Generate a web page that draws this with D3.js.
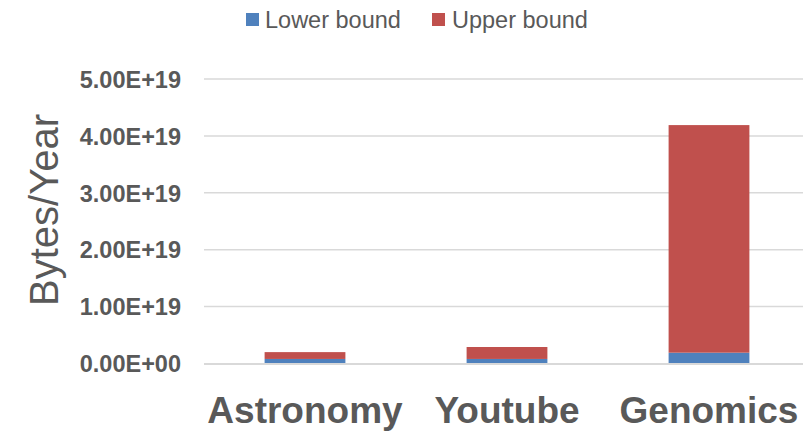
<!DOCTYPE html>
<html><head><meta charset="utf-8">
<script src="https://cdn.jsdelivr.net/npm/d3@7"></script>
<style>html,body{margin:0;padding:0;background:#fff;}svg{display:block;}</style>
</head><body>
<script>
const categories = ["Astronomy", "Youtube", "Genomics"];
const seriesNames = ["Lower bound", "Upper bound"];
const lowerBound = [8e17, 8e17, 1.9e18];
const upperBound = [1.2e18, 2.1e18, 4.0e19];
const yTicks = [0, 1e19, 2e19, 3e19, 4e19, 5e19];
const yTickLabels = ["0.00E+00", "1.00E+19", "2.00E+19", "3.00E+19", "4.00E+19", "5.00E+19"];
const colors = ["#4f81bd", "#c0504d"];

const W = 803, H = 433;
const font = "'Liberation Sans', Arial, Helvetica, sans-serif";
const textColor = "#595959";
const svg = d3.select("body").append("svg").attr("width", W).attr("height", H);

const x = d3.scaleBand().domain(categories).range([204, 810]).paddingInner(0.6).paddingOuter(0.3);
const y = d3.scaleLinear().domain([0, 5e19]).range([363.5, 79]);

// gridlines
svg.append("g").selectAll("line").data(yTicks.slice(1)).join("line")
  .attr("x1", 204).attr("x2", 803)
  .attr("y1", d => y(d)).attr("y2", d => y(d))
  .attr("stroke", "#d9d9d9").attr("stroke-width", 1.5);

// stacked bars
const rows = categories.map((c, i) => ({cat: c, "Lower bound": lowerBound[i], "Upper bound": upperBound[i]}));
const stack = d3.stack().keys(seriesNames)(rows);
svg.append("g").selectAll("g").data(stack).join("g")
  .attr("fill", (d, i) => colors[i])
  .selectAll("rect").data(d => d).join("rect")
  .attr("x", d => x(d.data.cat))
  .attr("width", x.bandwidth())
  .attr("y", d => y(d[1]))
  .attr("height", d => y(d[0]) - y(d[1]));

// baseline
svg.append("line").attr("x1", 204).attr("x2", 803).attr("y1", y(0) + 0.5).attr("y2", y(0) + 0.5)
  .attr("stroke", "#d9d9d9").attr("stroke-width", 2);

// y axis labels
const yAxis = d3.axisLeft(y).tickValues(yTicks).tickSize(0).tickPadding(0)
  .tickFormat((d, i) => yTickLabels[i]);
const ya = svg.append("g").attr("transform", "translate(181,0)").call(yAxis);
ya.select(".domain").remove();
ya.selectAll("text").attr("font-family", font).attr("font-size", 23.5).attr("font-weight", "bold")
  .attr("fill", textColor).attr("dy", "0.35em");

// x axis labels
const xAxis = d3.axisBottom(x).tickSize(0).tickPadding(0);
const xa = svg.append("g").attr("transform", "translate(0,423)").call(xAxis);
xa.select(".domain").remove();
xa.selectAll("text").attr("font-family", font).attr("font-size", 37).attr("font-weight", "bold")
  .attr("fill", textColor).attr("dy", 0);

// y title
svg.append("text").attr("transform", "translate(58,210) rotate(-90)")
  .attr("text-anchor", "middle").attr("font-family", font).attr("font-size", 40)
  .attr("fill", textColor).text("Bytes/Year");

// legend
const legX = [246, 432];
const leg = svg.append("g").selectAll("g").data(seriesNames).join("g")
  .attr("transform", (d, i) => `translate(${legX[i]},13)`);
leg.append("rect").attr("width", 13).attr("height", 13).attr("fill", (d, i) => colors[i]);
leg.append("text").attr("x", (d, i) => i === 0 ? 19 : 20).attr("y", 14.5)
  .attr("font-family", font).attr("font-size", 23.5).attr("fill", textColor).text(d => d);
</script>
</body></html>
